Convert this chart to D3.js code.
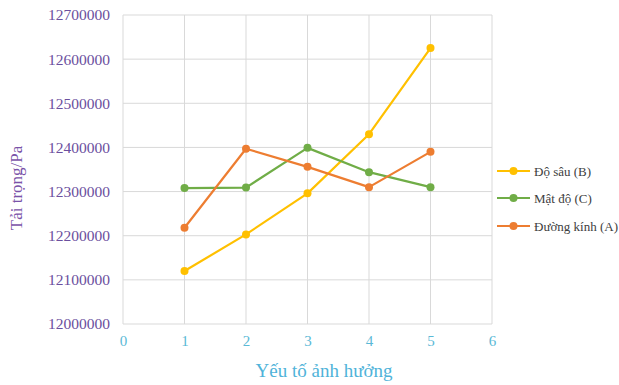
<!DOCTYPE html>
<html>
<head>
<meta charset="utf-8">
<script src="https://cdn.jsdelivr.net/npm/d3@7"></script>
<style>
  html, body { margin: 0; padding: 0; background: #fff; }
  svg { display: block; }
</style>
</head>
<body>
<svg id="chart" width="619" height="385"></svg>
<script>
// Factor index on the x axis
const factors = [1, 2, 3, 4, 5];
const xTicks = [0, 1, 2, 3, 4, 5, 6];
const yTicks = [12000000, 12100000, 12200000, 12300000, 12400000, 12500000, 12600000, 12700000];

// Load (Pa) for each factor level
const doSau = [12120000, 12203000, 12296000, 12430000, 12625000];     // Độ sâu (B)
const matDo = [12308000, 12309000, 12399000, 12344000, 12310000];     // Mật độ (C)
const duongKinh = [12218000, 12397000, 12356000, 12310000, 12390000]; // Đường kính (A)

const seriesNames = ["Độ sâu (B)", "Mật độ (C)", "Đường kính (A)"];
const seriesColors = ["#FFC000", "#70AD47", "#ED7D31"];
const seriesValues = [doSau, matDo, duongKinh];

const svg = d3.select("#chart");
const plot = { left: 123, right: 492, top: 15, bottom: 324 };

const x = d3.scaleLinear().domain([0, 6]).range([plot.left, plot.right]);
const y = d3.scaleLinear().domain([12000000, 12700000]).range([plot.bottom, plot.top]);

const serif = "'Liberation Serif', 'Times New Roman', serif";

// Gridlines
svg.append("g").selectAll("line.h").data(yTicks).join("line")
  .attr("x1", plot.left).attr("x2", plot.right)
  .attr("y1", d => y(d)).attr("y2", d => y(d))
  .attr("stroke", "#d9d9d9").attr("stroke-width", 1);
svg.append("g").selectAll("line.v").data(xTicks).join("line")
  .attr("y1", plot.top).attr("y2", plot.bottom)
  .attr("x1", d => x(d)).attr("x2", d => x(d))
  .attr("stroke", "#d9d9d9").attr("stroke-width", 1);

// Y axis labels
const yAxis = d3.axisLeft(y).tickValues(yTicks).tickFormat(d3.format("d")).tickSize(0).tickPadding(13);
const gy = svg.append("g").attr("transform", `translate(${plot.left},0)`).call(yAxis);
gy.select(".domain").remove();
gy.selectAll("text").attr("fill", "#6b4f9e").style("font-family", serif).style("font-size", "15.5px");

// X axis labels
const xAxis = d3.axisBottom(x).tickValues(xTicks).tickFormat(d3.format("d")).tickSize(0).tickPadding(11);
const gx = svg.append("g").attr("transform", `translate(0,${plot.bottom})`).call(xAxis);
gx.select(".domain").remove();
gx.selectAll("text").attr("fill", "#5ab9d6").style("font-family", serif).style("font-size", "15px");

// Series lines and markers
const line = d3.line().x((d, i) => x(factors[i])).y(d => y(d));
seriesValues.forEach((vals, k) => {
  svg.append("path").datum(vals)
    .attr("d", line).attr("fill", "none")
    .attr("stroke", seriesColors[k]).attr("stroke-width", 2.2)
    .attr("stroke-linejoin", "round");
  svg.append("g").selectAll("circle").data(vals).join("circle")
    .attr("cx", (d, i) => x(factors[i])).attr("cy", d => y(d)).attr("r", 4)
    .attr("fill", seriesColors[k]);
});

// Axis titles
svg.append("text")
  .attr("x", 324).attr("y", 377)
  .attr("text-anchor", "middle")
  .attr("fill", "#4fb3d9")
  .style("font-family", serif).style("font-size", "19px")
  .text("Yếu tố ảnh hưởng");

svg.append("text")
  .attr("transform", "translate(22,188) rotate(-90)")
  .attr("text-anchor", "middle")
  .attr("fill", "#7a52a8")
  .style("font-family", serif).style("font-size", "17px")
  .text("Tải trọng/Pa");

// Legend
const legendY = [171, 198, 226];
const lg = svg.append("g");
seriesNames.forEach((name, k) => {
  const gy0 = legendY[k];
  lg.append("line").attr("x1", 497).attr("x2", 530).attr("y1", gy0).attr("y2", gy0)
    .attr("stroke", seriesColors[k]).attr("stroke-width", 2.2);
  lg.append("circle").attr("cx", 513.5).attr("cy", gy0).attr("r", 4).attr("fill", seriesColors[k]);
  lg.append("text").attr("x", 534).attr("y", gy0 + 4.5)
    .attr("fill", "#404040")
    .style("font-family", serif).style("font-size", "13px")
    .text(name);
});
</script>
</body>
</html>
